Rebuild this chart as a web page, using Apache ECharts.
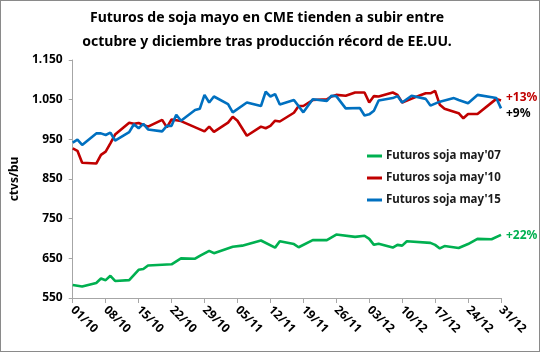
<!DOCTYPE html>
<html>
<head>
<meta charset="utf-8">
<script src="https://cdn.jsdelivr.net/npm/echarts@6/dist/echarts.min.js"></script>
<style>
  html, body { margin: 0; padding: 0; background: #fff; }
  #main { width: 540px; height: 352px; box-sizing: border-box; border: 1px solid #8a8a8a; }
</style>
</head>
<body>
<div id="main"></div>
<script>
// etiquetas del eje: 01/10 ... 31/12 (un punto por dia)
var monthLen = [[10, 31], [11, 30], [12, 31]];
var days = [];
monthLen.forEach(function (m) {
    for (var d = 1; d <= m[1]; d++) {
        days.push((d < 10 ? '0' + d : '' + d) + '/' + m[0]);
    }
});

// indice del dia (0 = 01/10) y precio
var may07Idx = [0, 2, 5, 6, 7, 8, 9, 12, 14, 15, 16, 19, 21, 23, 26, 27, 29, 30, 34, 36, 40, 43, 44, 47, 48, 51, 54, 56, 60, 62, 63, 64, 65, 68, 69, 70, 71, 76, 77, 78, 79, 82, 84, 86, 89, 91];
var may07 = [583, 579, 588, 599, 595, 606, 593, 595, 621, 623, 632, 634, 635, 650, 649, 656, 669, 663, 679, 682, 695, 677, 693, 686, 678, 696, 696, 710, 704, 707, 699, 684, 687, 677, 684, 682, 693, 689, 684, 675, 681, 676, 686, 699, 698, 709];

var may10Idx = [0, 1, 2, 5, 6, 7, 8, 9, 12, 13, 14, 16, 19, 20, 21, 23, 28, 29, 30, 33, 34, 35, 37, 40, 41, 42, 43, 44, 47, 48, 49, 51, 54, 55, 56, 58, 60, 62, 63, 64, 65, 68, 69, 70, 74, 75, 76, 77, 78, 79, 82, 83, 84, 86, 90, 91];
var may10 = [927, 921, 891, 889, 911, 919, 940, 962, 992, 989, 991, 982, 999, 980, 1000, 996, 970, 982, 969, 992, 1007, 997, 959, 982, 978, 984, 997, 995, 1017, 1034, 1034, 1049, 1051, 1058, 1062, 1060, 1068, 1068, 1043, 1059, 1058, 1068, 1062, 1043, 1062, 1066, 1066, 1072, 1037, 1027, 1016, 1003, 1014, 1014, 1052, 1048];

var may15Idx = [0, 1, 2, 5, 6, 7, 8, 9, 12, 13, 14, 15, 16, 19, 20, 21, 22, 23, 26, 27, 28, 29, 30, 33, 34, 37, 40, 41, 42, 43, 44, 47, 49, 51, 54, 55, 56, 58, 61, 62, 63, 64, 65, 68, 69, 70, 72, 75, 76, 78, 81, 82, 84, 86, 90, 91];
var may15 = [942, 949, 936, 965, 965, 961, 967, 947, 968, 988, 978, 989, 975, 970, 984, 984, 1012, 997, 1024, 1027, 1062, 1043, 1058, 1039, 1018, 1043, 1034, 1070, 1058, 1064, 1038, 1049, 1018, 1051, 1047, 1060, 1059, 1028, 1029, 1010, 1013, 1022, 1048, 1054, 1059, 1043, 1060, 1052, 1035, 1045, 1054, 1049, 1041, 1062, 1054, 1028];

var seriesNames = ["Futuros soja may'07", "Futuros soja may'10", "Futuros soja may'15"];
var endTexts = ['+22%', '+13%', '+9%'];

var font = 'Noto Sans';

function pairs(idx, vals) {
    return idx.map(function (d, i) { return [d, vals[i]]; });
}

function makeSeries(name, data, color, endText, endColor, offY) {
    return {
        name: name,
        type: 'line',
        data: data,
        symbol: 'none',
        lineStyle: { color: color, width: 2.6 },
        itemStyle: { color: color },
        endLabel: {
            show: true,
            formatter: endText,
            color: endColor,
            fontFamily: font,
            fontSize: 12,
            fontWeight: 'bold',
            distance: 5,
            offset: [0, offY]
        },
        animation: false
    };
}

var myChart = echarts.init(document.getElementById('main'));
var option = {
    animation: false,
    title: {
        text: 'Futuros de soja mayo en CME tienden a subir entre\noctubre y diciembre tras producción récord de EE.UU.',
        left: 261,
        textAlign: 'center',
        top: 0,
        textStyle: {
            fontFamily: font,
            fontSize: 14,
            fontWeight: 'bold',
            color: '#000',
            lineHeight: 24
        }
    },
    legend: {
        orient: 'vertical',
        left: 361,
        top: 143,
        icon: 'rect',
        itemWidth: 15,
        itemHeight: 3,
        itemGap: 8,
        data: seriesNames,
        textStyle: {
            fontFamily: font,
            fontSize: 11.5,
            fontWeight: 'bold',
            color: '#1a1a1a',
            lineHeight: 14,
            padding: [0, 0, 0, -1]
        }
    },
    grid: {
        left: 60,
        right: 38,
        top: 59,
        bottom: 53
    },
    xAxis: {
        type: 'category',
        data: days,
        boundaryGap: false,
        axisLine: { lineStyle: { color: '#a6a6a6', width: 1 } },
        axisTick: { interval: 6, length: 5, lineStyle: { color: '#a6a6a6' } },
        axisLabel: {
            interval: 6,
            rotate: -45,
            margin: 10,
            fontFamily: font,
            fontSize: 12,
            fontWeight: 'bold',
            color: '#000'
        },
        splitLine: { show: false }
    },
    yAxis: {
        type: 'value',
        min: 550,
        max: 1150,
        interval: 100,
        name: 'ctvs/bu',
        nameLocation: 'middle',
        nameGap: 44,
        nameRotate: 90,
        nameTextStyle: {
            fontFamily: font,
            fontSize: 12,
            fontWeight: 'bold',
            color: '#000'
        },
        axisLine: { show: true, lineStyle: { color: '#a6a6a6', width: 1 } },
        axisTick: { show: true, length: 4, lineStyle: { color: '#a6a6a6' } },
        axisLabel: {
            margin: 10,
            fontFamily: font,
            fontSize: 12,
            fontWeight: 'bold',
            color: '#000',
            formatter: function (v) {
                return v >= 1000 ? Math.floor(v / 1000) + '.' + String(v % 1000).padStart(3, '0') : '' + v;
            }
        },
        splitLine: { show: false }
    },
    series: [
        makeSeries(seriesNames[0], pairs(may07Idx, may07), '#00b050', endTexts[0], '#00b050', 1),
        makeSeries(seriesNames[1], pairs(may10Idx, may10), '#c00000', endTexts[1], '#c00000', -3),
        makeSeries(seriesNames[2], pairs(may15Idx, may15), '#0070c0', endTexts[2], '#000000', 5)
    ]
};

myChart.setOption(option);
</script>
</body>
</html>
